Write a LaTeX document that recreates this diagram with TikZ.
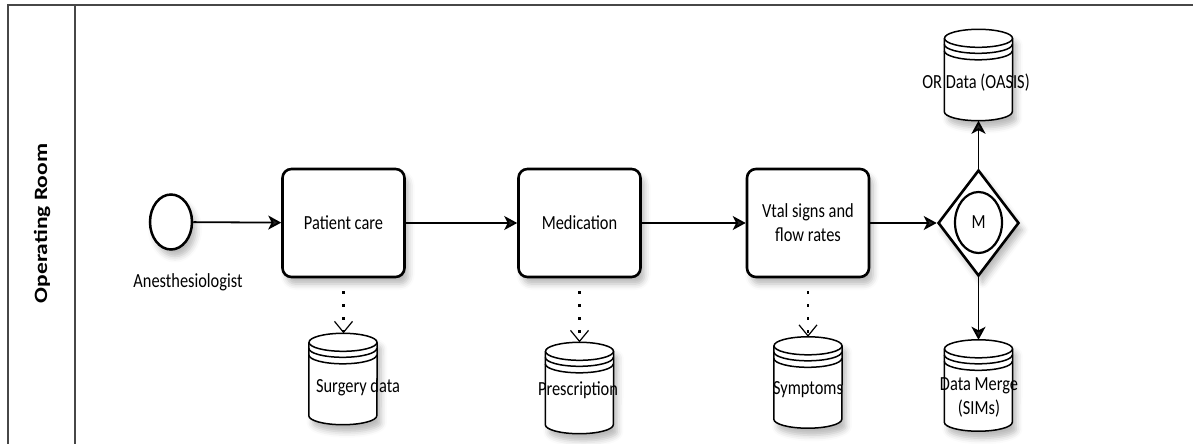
\documentclass[tikz,border=0pt]{standalone}
\usepackage{fontspec}
\setmainfont{Carlito}[FakeStretch=0.82]
\newfontfamily\lanefont{Carlito}
\usetikzlibrary{arrows.meta,shadows.blur,shapes.geometric}

\tikzset{
  soft/.style={blur shadow={shadow xshift=4pt, shadow yshift=-7pt,
      shadow blur radius=6pt, shadow opacity=28}},
  frame/.style={draw=black!72, line width=2pt},
  task/.style={draw, fill=white, soft, line width=2.6pt, rounded corners=9pt,
      minimum width=122pt, minimum height=108pt, inner sep=0pt, align=center,
      font=\fontsize{20}{24}\selectfont},
  startev/.style={ellipse, draw, fill=white, soft, line width=2.5pt,
      minimum width=42pt, minimum height=55pt, inner sep=0pt},
  gateway/.style={diamond, draw, fill=white, soft, line width=2.6pt,
      minimum width=81pt, minimum height=106pt, inner sep=0pt},
  gatemark/.style={ellipse, draw, line width=2.2pt, minimum width=47pt,
      minimum height=61pt, inner sep=0pt, font=\fontsize{20}{24}\selectfont},
  store/.style={draw=none, minimum width=68pt, minimum height=91pt, inner sep=0pt},
  storeline/.style={draw, line width=1.5pt},
  label/.style={font=\fontsize{20}{24}\selectfont, align=center, inner sep=0pt},
  flow/.style={draw, line width=1.8pt, -{Stealth[length=13pt,width=14pt,inset=3.5pt]}},
  assoc/.style={draw, line width=2.2pt, dash pattern=on 3pt off 10pt, shorten <=13pt,
      -{Straight Barb[length=11pt,width=18pt,line width=1.2pt]}},
}

% data store drawn on the box of a named node
\newcommand\drawstore[1]{%
  \fill[white, soft] ([yshift=-9pt]#1.north west) -- ([yshift=9pt]#1.south west)
    arc[start angle=180, end angle=360, x radius=34pt, y radius=9pt]
    -- ([yshift=-9pt]#1.north east)
    arc[start angle=0, end angle=180, x radius=34pt, y radius=9pt] -- cycle;
  \draw[storeline] ([yshift=-9pt]#1.north west) -- ([yshift=9pt]#1.south west)
    arc[start angle=180, end angle=360, x radius=34pt, y radius=9pt]
    -- ([yshift=-9pt]#1.north east);
  \draw[storeline] ([yshift=-9pt]#1.north) ellipse[x radius=34pt, y radius=9pt];
  \draw[storeline] ([yshift=-15pt]#1.north west)
    arc[start angle=180, end angle=360, x radius=34pt, y radius=9pt];
  \draw[storeline] ([yshift=-21.5pt]#1.north west)
    arc[start angle=180, end angle=360, x radius=34pt, y radius=9pt];
}

\begin{document}
\begin{tikzpicture}[x=1pt, y=-1pt]
  \useasboundingbox (0,0) rectangle (1193,444);

  % pool and lane header
  \draw[frame] (8,444) -- (8,5) -- (1193,5);
  \draw[frame] (75,5) -- (75,444);
  \node[rotate=90, inner sep=0pt] (lane) at (42,223.5)
    {\scalebox{1}[0.8]{\lanefont\bfseries\fontsize{23.5}{28}\selectfont Operating Room}};

  % flow nodes
  \node[startev] (start) at (171,222) {};
  \node[label] (actor) at (188,282) {Anesthesiologist};
  \node[task] (pc) at (343.5,223) {Patient care};
  \node[task] (med) at (579.5,223) {Medication};
  \node[task] (vit) at (808,223) {Vtal signs and\\flow rates};
  \node[gateway] (gw) at (978.5,223) {};
  \node[gatemark] (gm) at (978.5,222.5) {M};

  % data stores
  \node[store] (sd) at (343,379) {};
  \node[store] (pr) at (579.5,388) {};
  \node[store] (sy) at (808,382.5) {};
  \node[store] (ord) at (978.5,75) {};
  \node[store] (dm) at (978.5,385.5) {};
  \drawstore{sd}
  \drawstore{pr}
  \drawstore{sy}
  \drawstore{ord}
  \drawstore{dm}
  \node[label] (sdtext) at (358,387) {Surgery data};
  \node[label] (prtext) at (578,390) {Prescription};
  \node[label] (sytext) at (808,390) {Symptoms};
  \node[label] (ordtext) at (976,83) {OR Data (OASIS)};
  \node[label] (dmtext) at (979,397) {Data Merge\\(SIMs)};

  % sequence flows
  \draw[flow] (start) -- (pc);
  \draw[flow] (pc) -- (med);
  \draw[flow] (med) -- (vit);
  \draw[flow] (vit) -- (gw);
  \draw[flow] (gw.north) -- (ord.south);
  \draw[flow] (gw.south) -- (dm.north);

  % associations to data stores
  \draw[assoc] (pc.south) -- (pc.south |- sd.north);
  \draw[assoc] (med.south) -- (med.south |- pr.north);
  \draw[assoc] (vit.south) -- (vit.south |- sy.north);
\end{tikzpicture}
\end{document}
